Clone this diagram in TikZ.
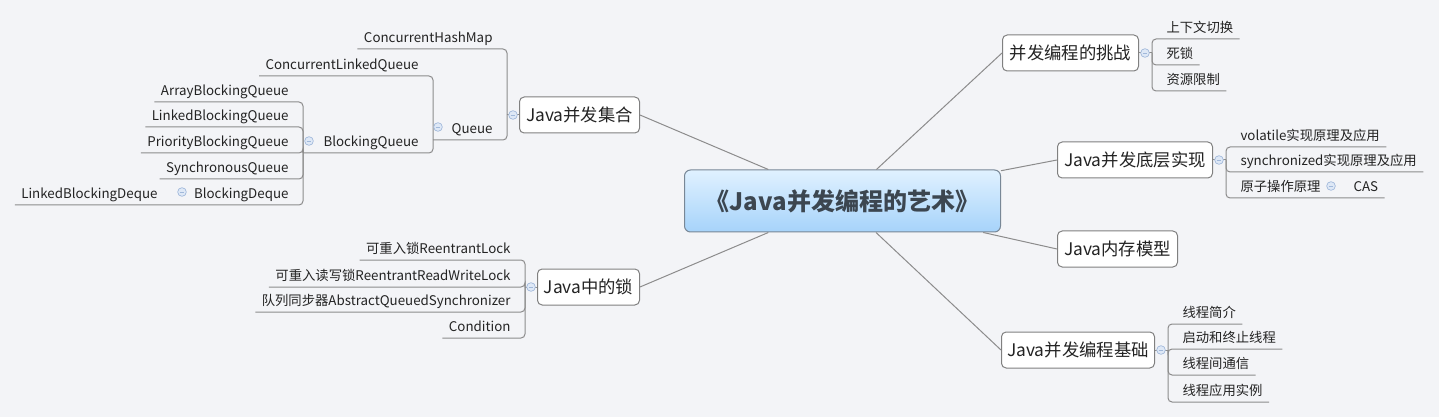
\documentclass[tikz,border=0pt]{standalone}
\usepackage{fontspec}
\setmainfont{Noto Sans CJK SC}
\definecolor{bgcol}{RGB}{243,244,247}
\definecolor{boxline}{RGB}{128,128,128}
\definecolor{linecol}{RGB}{140,140,140}
\definecolor{txtcol}{RGB}{35,35,35}
\definecolor{rootline}{RGB}{120,135,150}
\definecolor{roottxt}{RGB}{60,70,80}
\definecolor{roottop}{RGB}{224,241,255}
\definecolor{rootbot}{RGB}{166,211,250}
\definecolor{foldline}{RGB}{160,184,218}
\definecolor{foldfill}{RGB}{222,232,246}

\tikzset{every picture/.style={line width=0.75pt}}
\tikzset{
  root/.style={draw=rootline, top color=roottop, bottom color=rootbot, rounded corners=4.5pt,
    minimum width=237pt, minimum height=46.5pt, text=roottxt, font=\fontsize{18}{21}\selectfont\bfseries},
  topic/.style={draw=boxline, fill=white, rounded corners=3.5pt, minimum height=27pt,
    inner xsep=4pt, text=txtcol, font=\fontsize{13}{15}\selectfont},
  leaf/.style={inner xsep=4.5pt, inner ysep=2pt, text height=7.5pt, text depth=2.5pt,
    text=txtcol, font=\fontsize{10}{12}\selectfont},
  branch/.style={draw=linecol, line width=0.75pt},
  under/.style={draw=linecol, line width=0.75pt, rounded corners=3pt},
  fold/.style={circle, draw=foldline, fill=foldfill, inner sep=0pt, minimum size=6.5pt, line width=0.5pt,
    path picture={\draw[foldline, line width=0.7pt] ([xshift=-1.8pt]path picture bounding box.center) -- ([xshift=1.8pt]path picture bounding box.center);}},
}

\begin{document}
\begin{tikzpicture}[x=0.75pt,y=0.75pt,yscale=-1,xscale=1]
%Background
\path[fill=bgcol] (0,0) rectangle (1439,417);

%Shape: Root
\node[root] (root) at (842.5,201) {《Java并发编程的艺术》};

%Shape: Topics
\node[topic, anchor=west, minimum width=102pt] (tiaozhan) at (1002,53) {并发编程的挑战};
\node[topic, anchor=west, minimum width=116.25pt] (dieceng) at (1057,160) {Java并发底层实现};
\node[topic, anchor=west, minimum width=90pt] (neicun) at (1057,249) {Java内存模型};
\node[topic, anchor=west, minimum width=114.75pt] (jichu) at (1001,350) {Java并发编程基础};
\node[topic, anchor=east, minimum width=90pt] (jihe) at (640,115) {Java并发集合};
\node[topic, anchor=east, minimum width=76.5pt] (suo) at (640,287) {Java中的锁};

%Hubs
\coordinate (tzhub) at (1152,53);
\coordinate (dchub) at (1226,160);
\coordinate (jchub) at (1168,350);
\coordinate (jhhub) at (507,115);
\coordinate (qhub) at (433,140);
\coordinate (bqhub) at (303,153);
\coordinate (sshub) at (525,287);

% Text Node
\node[leaf, anchor=south west] (qiehuan) at (1160,39) {上下文切换};
\node[leaf, anchor=south west] (sisuo) at (1160,65) {死锁};
\node[leaf, anchor=south west] (ziyuan) at (1160,91) {资源限制};
% Text Node
\node[leaf, anchor=south west] (volatile) at (1234,147) {volatile实现原理及应用};
\node[leaf, anchor=south west] (sync) at (1234,172) {synchronized实现原理及应用};
\node[leaf, anchor=south west] (yuanzi) at (1234,198) {原子操作原理};
\node[leaf, anchor=south west] (cas) at (1347,198) {CAS};
% Text Node
\node[leaf, anchor=south west] (jianjie) at (1176,324) {线程简介};
\node[leaf, anchor=south west] (qidong) at (1176,349) {启动和终止线程};
\node[leaf, anchor=south west] (tongxin) at (1176,375) {线程间通信};
\node[leaf, anchor=south west] (shili) at (1176,402) {线程应用实例};
% Text Node
\node[leaf, anchor=south east] (chm) at (499,49) {ConcurrentHashMap};
\node[leaf, anchor=south east] (queue) at (499,140) {Queue};
\node[leaf, anchor=south east] (clq) at (425,76) {ConcurrentLinkedQueue};
\node[leaf, anchor=south east] (bq) at (425,153) {BlockingQueue};
\node[leaf, anchor=south east] (abq) at (295,102) {ArrayBlockingQueue};
\node[leaf, anchor=south east] (lbq) at (295,127) {LinkedBlockingQueue};
\node[leaf, anchor=south east] (pbq) at (295,153) {PriorityBlockingQueue};
\node[leaf, anchor=south east] (sq) at (295,179) {SynchronousQueue};
\node[leaf, anchor=south east] (bd) at (295,205) {BlockingDeque};
\node[leaf, anchor=south east] (lbd) at (164,205) {LinkedBlockingDeque};
% Text Node
\node[leaf, anchor=south east] (rlock) at (517,260) {可重入锁ReentrantLock};
\node[leaf, anchor=south east] (rwlock) at (517,287) {可重入读写锁ReentrantReadWriteLock};
\node[leaf, anchor=south east] (aqs) at (517,312) {队列同步器AbstractQueuedSynchronizer};
\node[leaf, anchor=south east] (cond) at (517,338) {Condition};

%Straight Lines
\draw[branch] (tiaozhan.west) -- (root);
\draw[branch] (dieceng.west) -- (root);
\draw[branch] (neicun.west) -- (root);
\draw[branch] (jichu.west) -- (root);
\draw[branch] (jihe.east) -- (root);
\draw[branch] (suo.east) -- (root);
\draw[branch] (tiaozhan.east) -- (tzhub);
\draw[branch] (dieceng.east) -- (dchub);
\draw[branch] (jichu.east) -- (jchub);
\draw[branch] (jihe.west) -- (jhhub);
\draw[branch] (suo.west) -- (sshub);

%Underlines
\foreach \c in {qiehuan,sisuo,ziyuan} \draw[under] (tzhub) |- (\c.south east);
\foreach \c in {volatile,sync} \draw[under] (dchub) |- (\c.south east);
\draw[under] (dchub) |- (cas.south east);
\foreach \c in {jianjie,qidong,tongxin,shili} \draw[under] (jchub) |- (\c.south east);
\draw[under] (jhhub) |- (chm.south west);
\draw[under] (jhhub) |- (qhub);
\draw[under] (qhub) |- (clq.south west);
\draw[under] (qhub) |- (bqhub);
\foreach \c in {abq,lbq,pbq,sq} \draw[under] (bqhub) |- (\c.south west);
\draw[under] (bqhub) |- (lbd.south west);
\foreach \c in {rlock,rwlock,aqs,cond} \draw[under] (sshub) |- (\c.south west);

%Fold marks
\node[fold] (tzfold) at (1145,53) {};
\node[fold] (dcfold) at (1219,160) {};
\node[fold] (jcfold) at (1161,350) {};
\node[fold] (jhfold) at (513,115) {};
\node[fold] (ssfold) at (531,287) {};
\node[fold] (qfold) at (438,127) {};
\node[fold] (bqfold) at (309,141) {};
\node[fold] (bdfold) at (182,192) {};
\node[fold] (yzfold) at (1331,186) {};

\end{tikzpicture}
\end{document}
